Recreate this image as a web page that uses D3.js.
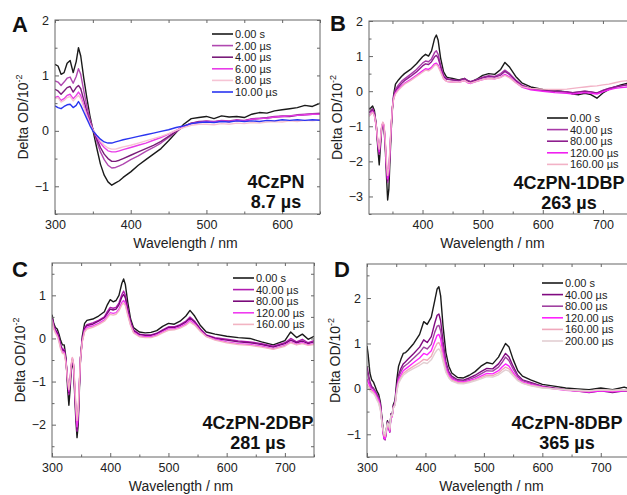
<!DOCTYPE html>
<html lang="en">
<head>
<meta charset="UTF-8">
<title>Transient absorption spectra</title>
<style>
  body { margin: 0; background: #fff; }
  svg { display: block; font-family: "Liberation Sans", Arial, sans-serif; }
</style>
</head>
<body>
<svg id="chart" width="627" height="495"></svg>
<script src="https://d3js.org/d3.v7.min.js"></script>
<script>
// ---- Panel A: 4CzPN ----
const wlA = [300,304,308,312,316,320,324,328,331,334,338,342,346,350,355,360,365,370,375,380,385,390,400,410,420,430,440,450,460,470,480,490,500,510,520,530,540,550,560,570,580,590,600,610,620,630,640,650];
const A_0s  = [1.20,1.17,1.02,1.05,1.22,1.27,1.05,1.25,1.50,1.35,0.95,0.60,0.28,0.02,-0.30,-0.60,-0.80,-0.92,-0.98,-0.94,-0.90,-0.84,-0.74,-0.62,-0.52,-0.42,-0.32,-0.18,-0.03,0.12,0.22,0.24,0.26,0.22,0.27,0.25,0.26,0.24,0.30,0.33,0.32,0.36,0.38,0.40,0.42,0.46,0.44,0.50];
const A_2us = [0.90,0.88,0.82,0.88,0.95,0.97,0.86,0.98,1.12,1.02,0.72,0.45,0.22,0.04,-0.18,-0.38,-0.52,-0.62,-0.67,-0.66,-0.63,-0.60,-0.52,-0.45,-0.37,-0.30,-0.22,-0.12,-0.02,0.08,0.14,0.17,0.18,0.17,0.19,0.18,0.20,0.19,0.22,0.23,0.24,0.26,0.27,0.27,0.29,0.30,0.31,0.32];
const A_4us = [0.75,0.72,0.66,0.72,0.78,0.80,0.70,0.78,0.82,0.76,0.56,0.35,0.17,0.03,-0.14,-0.30,-0.42,-0.50,-0.55,-0.55,-0.53,-0.50,-0.44,-0.38,-0.32,-0.26,-0.19,-0.10,-0.01,0.08,0.14,0.16,0.17,0.16,0.18,0.17,0.19,0.18,0.21,0.22,0.23,0.25,0.26,0.26,0.28,0.29,0.30,0.31];
const A_6us = [0.60,0.62,0.55,0.58,0.64,0.66,0.58,0.64,0.70,0.64,0.46,0.30,0.14,0.02,-0.10,-0.22,-0.30,-0.36,-0.38,-0.38,-0.36,-0.34,-0.30,-0.26,-0.22,-0.17,-0.12,-0.06,0.01,0.08,0.13,0.15,0.17,0.16,0.18,0.17,0.19,0.18,0.21,0.22,0.23,0.25,0.26,0.27,0.28,0.29,0.30,0.30];
const A_8us = [0.58,0.60,0.52,0.55,0.60,0.62,0.54,0.60,0.64,0.58,0.42,0.27,0.13,0.02,-0.08,-0.18,-0.26,-0.31,-0.33,-0.33,-0.31,-0.29,-0.26,-0.22,-0.18,-0.14,-0.10,-0.05,0.01,0.06,0.10,0.12,0.12,0.11,0.13,0.12,0.14,0.13,0.15,0.14,0.16,0.17,0.16,0.18,0.17,0.19,0.18,0.20];
const A_10us = [0.45,0.42,0.40,0.44,0.47,0.48,0.42,0.46,0.53,0.46,0.34,0.22,0.10,0.00,-0.08,-0.15,-0.20,-0.22,-0.22,-0.20,-0.18,-0.16,-0.13,-0.10,-0.07,-0.04,-0.01,0.02,0.06,0.09,0.13,0.15,0.16,0.15,0.17,0.16,0.18,0.17,0.18,0.17,0.19,0.18,0.20,0.19,0.20,0.19,0.20,0.19];
const labelsA = ["0.00 s","2.00 \u00b5s","4.00 \u00b5s","6.00 \u00b5s","8.00 \u00b5s","10.00 \u00b5s"];
const colorsA = ["#1a1a1a","#b048b0","#7a1c7a","#e83ce8","#f6c4d4","#2a35f0"];

// ---- Panel B: 4CzPN-1DBP ----
const wlB = [311,314,317,320,323,326,328,330,332,334,
             336,338,340,342,344,346,348,350,352,355,
             360,365,370,380,390,400,405,410,415,420,
             423,426,430,435,440,445,450,460,470,475,
             480,490,500,510,520,530,537,545,555,565,
             580,600,620,640,650,660,670,680,690,700,
             710,720,730,740,750];
const B_0s = [-0.50,-0.48,-0.42,-0.55,-0.95,-1.70,-2.10,-1.60,-1.10,-0.95,
              -1.05,-1.60,-2.40,-3.10,-2.80,-1.90,-1.10,-0.50,-0.10,0.20,
              0.32,0.42,0.50,0.62,0.78,0.98,1.05,1.00,1.15,1.50,
              1.60,1.45,0.95,0.55,0.40,0.38,0.36,0.32,0.36,0.30,
              0.26,0.34,0.45,0.50,0.48,0.62,0.82,0.68,0.42,0.24,
              0.12,0.05,0.02,-0.02,-0.08,-0.10,-0.06,-0.10,-0.20,-0.05,
              0.05,0.12,0.18,0.22,0.20];
const B_40us = [-0.60,-0.55,-0.50,-0.62,-0.95,-1.55,-1.80,-1.45,-1.05,-0.92,
                -1.00,-1.50,-2.20,-2.60,-2.40,-1.70,-1.00,-0.45,-0.15,0.05,
                0.18,0.28,0.35,0.48,0.62,0.80,0.86,0.84,0.92,1.10,
                1.15,1.05,0.75,0.45,0.36,0.34,0.33,0.30,0.36,0.30,
                0.27,0.33,0.40,0.44,0.42,0.50,0.60,0.50,0.32,0.18,
                0.08,0.02,0.00,-0.02,-0.04,-0.02,0.00,-0.02,-0.06,0.02,
                0.08,0.12,0.15,0.18,0.16];
const B_80us = [-0.62,-0.58,-0.52,-0.65,-0.98,-1.55,-1.78,-1.45,-1.05,-0.92,
                -1.00,-1.48,-2.15,-2.55,-2.35,-1.65,-0.98,-0.45,-0.18,0.00,
                0.12,0.22,0.30,0.42,0.55,0.72,0.78,0.76,0.84,0.98,
                1.02,0.94,0.70,0.42,0.34,0.33,0.32,0.30,0.36,0.29,
                0.27,0.32,0.38,0.42,0.40,0.46,0.56,0.47,0.30,0.16,
                0.07,0.02,0.00,-0.02,-0.04,-0.02,0.00,-0.02,-0.05,0.02,
                0.08,0.12,0.15,0.18,0.16];
const B_120us = [-0.70,-0.65,-0.58,-0.70,-1.00,-1.50,-1.72,-1.40,-1.02,-0.90,
                 -0.98,-1.45,-2.10,-2.50,-2.30,-1.60,-0.95,-0.45,-0.20,-0.05,
                 0.06,0.15,0.22,0.33,0.45,0.58,0.64,0.62,0.68,0.78,
                 0.80,0.74,0.58,0.36,0.28,0.27,0.26,0.25,0.30,0.24,
                 0.22,0.28,0.33,0.37,0.35,0.40,0.48,0.40,0.25,0.12,
                 0.04,0.00,-0.04,-0.06,-0.08,-0.06,-0.04,-0.06,-0.08,-0.02,
                 0.04,0.08,0.10,0.12,0.10];
const B_160us = [-0.72,-0.66,-0.60,-0.70,-0.98,-1.45,-1.65,-1.35,-1.00,-0.88,
                 -0.95,-1.40,-2.00,-2.40,-2.20,-1.55,-0.92,-0.45,-0.22,-0.08,
                 0.03,0.12,0.20,0.30,0.42,0.54,0.60,0.58,0.64,0.74,
                 0.76,0.70,0.55,0.35,0.28,0.27,0.26,0.25,0.30,0.25,
                 0.23,0.28,0.33,0.36,0.35,0.39,0.45,0.38,0.24,0.13,
                 0.08,0.06,0.05,0.06,0.08,0.10,0.12,0.14,0.15,0.18,
                 0.20,0.24,0.28,0.30,0.26];
const labelsB = ["0.00 s","40.00 \u00b5s","80.00 \u00b5s","120.00 \u00b5s","160.00 \u00b5s"];
const colorsB = ["#1a1a1a","#a83aa8","#8e1e8e","#f020f0","#f2b2c6"];

// ---- Panel C: 4CzPN-2DBP ----
const wlC = [300,303,306,309,312,315,318,321,324,327,
             329,331,333,335,337,339,341,343,345,347,
             349,352,356,360,370,380,390,395,400,405,
             410,415,420,423,426,430,435,440,450,460,
             470,480,490,500,510,520,530,537,545,555,
             565,580,600,620,640,660,680,700,710,720,
             730,740,750];
const C_0s = [0.55,0.35,0.25,0.22,0.10,-0.05,-0.15,-0.15,-0.45,-1.20,
              -1.55,-1.20,-0.75,-0.55,-0.70,-1.30,-1.90,-2.30,-2.00,-1.20,
              -0.45,0.05,0.35,0.42,0.45,0.52,0.62,0.78,0.90,0.85,
              0.88,1.00,1.28,1.38,1.25,0.85,0.45,0.25,0.15,0.13,
              0.14,0.18,0.28,0.35,0.33,0.40,0.52,0.65,0.52,0.30,
              0.15,0.10,0.05,0.02,0.00,-0.08,-0.15,-0.05,0.15,0.02,
              0.10,-0.02,0.05];
const C_40us = [0.50,0.30,0.20,0.15,0.02,-0.15,-0.25,-0.25,-0.50,-1.05,
                -1.30,-1.05,-0.68,-0.50,-0.65,-1.20,-1.75,-2.15,-1.85,-1.10,
                -0.45,-0.02,0.25,0.32,0.36,0.42,0.50,0.62,0.72,0.70,
                0.72,0.82,1.02,1.10,1.00,0.70,0.38,0.20,0.10,0.08,
                0.08,0.12,0.20,0.27,0.27,0.32,0.40,0.50,0.40,0.22,
                0.08,0.02,-0.02,-0.06,-0.08,-0.12,-0.18,-0.10,0.00,-0.08,
                -0.02,-0.10,-0.05];
const C_80us = [0.48,0.28,0.18,0.12,0.00,-0.18,-0.28,-0.28,-0.52,-1.02,
                -1.25,-1.00,-0.65,-0.48,-0.62,-1.15,-1.70,-2.10,-1.80,-1.08,
                -0.45,-0.04,0.22,0.30,0.33,0.40,0.48,0.58,0.68,0.66,
                0.68,0.78,0.96,1.02,0.94,0.66,0.36,0.18,0.09,0.07,
                0.07,0.11,0.18,0.25,0.25,0.30,0.38,0.47,0.38,0.21,
                0.07,0.00,-0.04,-0.08,-0.10,-0.14,-0.20,-0.12,-0.04,-0.10,
                -0.06,-0.12,-0.08];
const C_120us = [0.45,0.25,0.15,0.08,-0.05,-0.22,-0.32,-0.32,-0.55,-1.00,
                 -1.22,-0.98,-0.62,-0.45,-0.60,-1.10,-1.65,-2.05,-1.75,-1.05,
                 -0.45,-0.06,0.18,0.26,0.29,0.35,0.43,0.52,0.60,0.58,
                 0.60,0.68,0.84,0.88,0.82,0.58,0.32,0.15,0.06,0.04,
                 0.04,0.08,0.15,0.22,0.22,0.27,0.34,0.42,0.34,0.18,
                 0.05,-0.02,-0.08,-0.12,-0.14,-0.18,-0.24,-0.16,-0.08,-0.14,
                 -0.10,-0.15,-0.12];
const C_160us = [0.42,0.22,0.12,0.05,-0.08,-0.25,-0.35,-0.35,-0.58,-0.98,
                 -1.18,-0.95,-0.60,-0.44,-0.58,-1.05,-1.55,-1.90,-1.65,-1.00,
                 -0.45,-0.08,0.15,0.22,0.26,0.32,0.40,0.48,0.56,0.54,
                 0.56,0.64,0.78,0.82,0.76,0.54,0.30,0.13,0.04,0.02,
                 0.02,0.06,0.13,0.19,0.20,0.24,0.31,0.38,0.31,0.16,
                 0.04,-0.04,-0.10,-0.14,-0.16,-0.20,-0.25,-0.18,-0.10,-0.15,
                 -0.12,-0.16,-0.14];
const labelsC = ["0.00 s","40.00 \u00b5s","80.00 \u00b5s","120.00 \u00b5s","160.00 \u00b5s"];
const colorsC = ["#1a1a1a","#b01cb0","#7a0a7a","#f03cf0","#f2b4c2"];

// ---- Panel D: 4CzPN-8DBP ----
const wlD = [300,302,305,308,311,314,317,320,323,326,
             329,331,333,335,337,339,341,343,345,348,
             351,354,358,362,366,370,380,390,397,403,
             410,416,420,423,426,430,435,440,445,455,
             465,475,485,495,505,515,525,531,537,543,
             550,558,566,580,600,620,640,660,680,700,
             720,740,750];
const D_0s = [0.95,0.75,0.35,0.20,0.15,0.05,-0.05,-0.12,-0.30,-0.70,
              -1.05,-1.10,-0.90,-0.70,-0.85,-0.95,-0.55,-0.60,-0.35,-0.25,
              0.20,0.50,0.65,0.78,0.80,0.85,1.00,1.20,1.48,1.42,
              1.58,1.95,2.20,2.25,2.05,1.40,0.80,0.50,0.35,0.25,
              0.24,0.30,0.38,0.50,0.58,0.55,0.70,0.85,1.00,0.92,
              0.65,0.40,0.28,0.20,0.10,0.06,0.02,0.00,-0.02,0.02,
              -0.02,0.04,0.00];
const D_40us = [0.50,0.35,0.15,0.05,0.02,-0.05,-0.12,-0.18,-0.35,-0.75,
                -1.08,-1.12,-0.92,-0.72,-0.80,-0.90,-0.55,-0.58,-0.38,-0.30,
                0.08,0.30,0.45,0.55,0.60,0.65,0.78,0.92,1.08,1.02,
                1.15,1.45,1.62,1.65,1.50,1.05,0.60,0.38,0.28,0.20,
                0.19,0.24,0.30,0.38,0.45,0.44,0.55,0.66,0.78,0.70,
                0.50,0.30,0.20,0.14,0.06,0.02,-0.02,-0.05,-0.08,-0.04,
                -0.08,-0.04,-0.06];
const D_80us = [0.40,0.28,0.10,0.02,0.00,-0.06,-0.14,-0.20,-0.38,-0.78,
                -1.10,-1.12,-0.95,-0.75,-0.82,-0.92,-0.58,-0.60,-0.40,-0.32,
                0.04,0.25,0.38,0.48,0.52,0.56,0.68,0.80,0.92,0.88,
                0.98,1.25,1.38,1.40,1.28,0.90,0.52,0.34,0.25,0.18,
                0.17,0.21,0.26,0.33,0.40,0.39,0.48,0.58,0.70,0.62,
                0.44,0.27,0.18,0.12,0.05,0.01,-0.02,-0.04,-0.06,-0.03,
                -0.06,-0.03,-0.05];
const D_120us = [0.22,0.15,0.05,-0.02,-0.04,-0.10,-0.18,-0.25,-0.42,-0.80,
                 -1.08,-1.10,-0.95,-0.78,-0.85,-0.95,-0.62,-0.62,-0.42,-0.35,
                 0.00,0.20,0.30,0.40,0.44,0.48,0.58,0.68,0.78,0.75,
                 0.84,1.05,1.18,1.20,1.10,0.78,0.45,0.30,0.22,0.16,
                 0.15,0.18,0.22,0.28,0.34,0.33,0.40,0.48,0.55,0.50,
                 0.36,0.22,0.15,0.10,0.04,0.00,-0.03,-0.05,-0.07,-0.04,
                 -0.06,-0.04,-0.05];
const D_160us = [0.10,0.06,0.00,-0.05,-0.08,-0.14,-0.22,-0.30,-0.45,-0.80,
                 -1.02,-1.05,-0.92,-0.78,-0.82,-0.90,-0.60,-0.60,-0.42,-0.36,
                 -0.04,0.15,0.25,0.34,0.38,0.42,0.50,0.58,0.65,0.63,
                 0.72,0.90,1.00,1.02,0.94,0.68,0.40,0.26,0.19,0.14,
                 0.13,0.16,0.20,0.25,0.30,0.29,0.35,0.42,0.48,0.44,
                 0.32,0.20,0.13,0.08,0.03,0.00,-0.02,-0.04,-0.05,-0.02,
                 -0.04,-0.02,-0.04];
const D_200us = [0.05,0.02,-0.04,-0.08,-0.10,-0.16,-0.25,-0.32,-0.48,-0.78,
                 -0.98,-1.00,-0.88,-0.75,-0.78,-0.86,-0.58,-0.58,-0.42,-0.36,
                 -0.06,0.12,0.22,0.30,0.34,0.38,0.45,0.52,0.58,0.56,
                 0.64,0.78,0.86,0.88,0.82,0.60,0.36,0.24,0.17,0.12,
                 0.11,0.14,0.18,0.22,0.27,0.26,0.31,0.37,0.42,0.39,
                 0.29,0.18,0.12,0.07,0.02,0.00,-0.02,-0.03,-0.04,-0.02,
                 -0.03,-0.02,-0.03];
const labelsD = ["0.00 s","40.00 \u00b5s","80.00 \u00b5s","120.00 \u00b5s","160.00 \u00b5s","200.00 \u00b5s"];
const colorsD = ["#1a1a1a","#800a80","#a040a0","#ff22ff","#f0a8bc","#e2cfd2"];

// panel layout: frame box in pixels, axis domains, text placement
const panels = [
  { id: "A", box: [55, 20, 320, 214], xd: [300, 650], yd: [-1.5, 2], xt: [300, 400, 500, 600], yt: [-1, 0, 1, 2],
    wl: wlA, series: [A_0s, A_2us, A_4us, A_6us, A_8us, A_10us], labels: labelsA, colors: colorsA,
    letter: [12, 32], legend: [212, 34], name: ["4CzPN", "8.7 \u00b5s"], namePos: [276, 188] },
  { id: "B", box: [369, 21, 633, 214], xd: [311, 750], yd: [-3.5, 2], xt: [400, 500, 600, 700], yt: [-3, -2, -1, 0, 1, 2],
    wl: wlB, series: [B_0s, B_40us, B_80us, B_120us, B_160us], labels: labelsB, colors: colorsB,
    letter: [330, 31], legend: [547, 118], name: ["4CzPN-1DBP", "263 \u00b5s"], namePos: [569, 189] },
  { id: "C", box: [52, 263, 314, 457], xd: [300, 750], yd: [-2.75, 1.75], xt: [300, 400, 500, 600, 700], yt: [-2, -1, 0, 1],
    wl: wlC, series: [C_0s, C_40us, C_80us, C_120us, C_160us], labels: labelsC, colors: colorsC,
    letter: [12, 277], legend: [233, 278], name: ["4CzPN-2DBP", "281 \u00b5s"], namePos: [258, 429] },
  { id: "D", box: [367, 264, 630, 457], xd: [300, 750], yd: [-1.5, 2.75], xt: [300, 400, 500, 600, 700], yt: [-1, 0, 1, 2],
    wl: wlD, series: [D_0s, D_40us, D_80us, D_120us, D_160us, D_200us], labels: labelsD, colors: colorsD,
    letter: [334, 277], legend: [542, 283], name: ["4CzPN-8DBP", "365 \u00b5s"], namePos: [567, 429] }
];

const svg = d3.select("#chart");

function halfSteps(ticks, step, dom) {
  // minor ticks between the majors
  const out = [];
  for (let v = Math.ceil(dom[0] / step) * step; v <= dom[1] + 1e-9; v += step) {
    if (!ticks.some(t => Math.abs(t - v) < 1e-6)) out.push(+v.toFixed(3));
  }
  return out;
}

function drawPanel(p) {
  const [x0, y0, x1, y1] = p.box;
  const x = d3.scaleLinear().domain(p.xd).range([x0, x1]);
  const y = d3.scaleLinear().domain(p.yd).range([y1, y0]);
  const g = svg.append("g");

  const clipId = "clip" + p.id;
  g.append("clipPath").attr("id", clipId)
    .append("rect").attr("x", x0).attr("y", y0).attr("width", x1 - x0).attr("height", y1 - y0);

  const line = d3.line().x((d, i) => x(p.wl[i])).y(d => y(d));
  const lines = g.append("g").attr("clip-path", `url(#${clipId})`);
  p.series.forEach((s, i) => {
    lines.append("path")
      .attr("d", line(s))
      .attr("fill", "none")
      .attr("stroke", p.colors[i])
      .attr("stroke-width", 1.4)
      .attr("stroke-linejoin", "round");
  });

  // frame
  g.append("rect").attr("x", x0).attr("y", y0).attr("width", x1 - x0).attr("height", y1 - y0)
    .attr("fill", "none").attr("stroke", "#666").attr("stroke-width", 1);

  const xMinor = halfSteps(p.xt, 50, p.xd);
  const yMinor = halfSteps(p.yt, 0.5, p.yd);

  const styleAxis = sel => {
    sel.select(".domain").remove();
    sel.selectAll(".tick line").attr("stroke", "#666");
    sel.selectAll(".tick text").attr("fill", "#222").attr("font-size", 12.5)
      .attr("font-family", "'Liberation Sans', Arial, sans-serif");
  };

  g.append("g").attr("transform", `translate(0,${y1})`)
    .call(d3.axisBottom(x).tickValues(p.xt).tickSize(-4).tickPadding(6).tickFormat(d3.format("d"))).call(styleAxis);
  g.append("g").attr("transform", `translate(0,${y1})`)
    .call(d3.axisBottom(x).tickValues(xMinor).tickSize(-2.5).tickFormat("")).call(styleAxis);
  g.append("g").attr("transform", `translate(0,${y0})`)
    .call(d3.axisTop(x).tickValues(p.xt.concat(xMinor)).tickSize(-3).tickFormat("")).call(styleAxis);

  g.append("g").attr("transform", `translate(${x0},0)`)
    .call(d3.axisLeft(y).tickValues(p.yt).tickSize(-4).tickPadding(6).tickFormat(d3.format("d"))).call(styleAxis);
  g.append("g").attr("transform", `translate(${x0},0)`)
    .call(d3.axisLeft(y).tickValues(yMinor).tickSize(-2.5).tickFormat("")).call(styleAxis);
  g.append("g").attr("transform", `translate(${x1},0)`)
    .call(d3.axisRight(y).tickValues(p.yt.concat(yMinor)).tickSize(-3).tickFormat("")).call(styleAxis);

  // axis titles (centred on the visible part of the frame)
  const xmid = (x0 + Math.min(x1, 620)) / 2;
  g.append("text").attr("x", xmid - 2).attr("y", y1 + 34)
    .attr("text-anchor", "middle").attr("font-size", 14).attr("fill", "#222")
    .text("Wavelength / nm");

  const yt = g.append("text")
    .attr("transform", `translate(${x0 - 27},${(y0 + y1) / 2}) rotate(-90)`)
    .attr("text-anchor", "middle").attr("font-size", 14).attr("fill", "#222");
  yt.append("tspan").text("Delta OD/10");
  yt.append("tspan").attr("font-size", 9).attr("dy", -6).text("-2");

  // panel letter
  g.append("text").attr("x", p.letter[0]).attr("y", p.letter[1])
    .attr("font-size", 22).attr("font-weight", "bold").attr("fill", "#111").text(p.id);

  // legend
  p.labels.forEach((lab, i) => {
    const ly = p.legend[1] + i * 11.6;
    g.append("line").attr("x1", p.legend[0]).attr("x2", p.legend[0] + 21)
      .attr("y1", ly).attr("y2", ly).attr("stroke", p.colors[i]).attr("stroke-width", 1.6);
    g.append("text").attr("x", p.legend[0] + 23).attr("y", ly + 4)
      .attr("font-size", 11).attr("fill", "#222").text(lab);
  });

  // sample name and lifetime
  p.name.forEach((t, i) => {
    g.append("text").attr("x", p.namePos[0]).attr("y", p.namePos[1] + i * 20)
      .attr("text-anchor", "middle").attr("font-size", 18).attr("font-weight", "bold")
      .attr("fill", "#111").text(t);
  });
}

panels.forEach(drawPanel);
</script>
</body>
</html>
